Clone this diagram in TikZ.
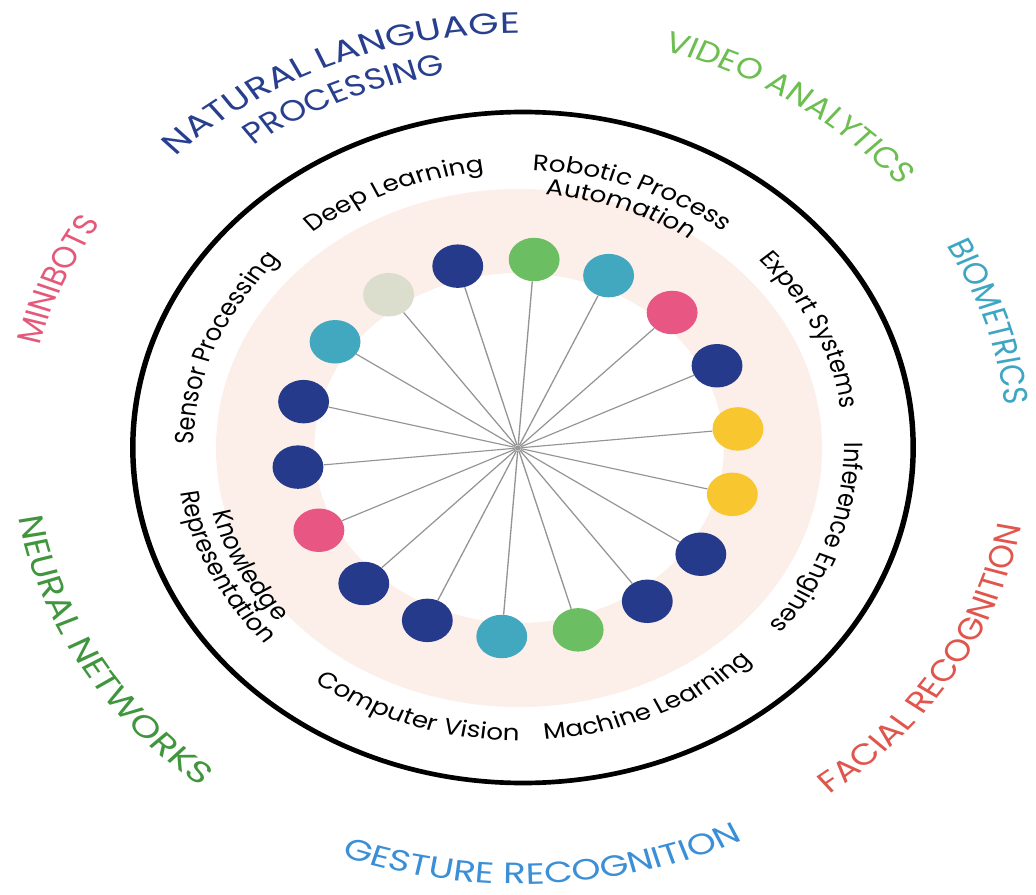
\documentclass[tikz,border=0pt]{standalone}
\usepackage{fontspec}
\setmainfont{Poppins}
\newfontfamily\lblfont{Poppins}
\newfontfamily\catfont{Poppins}
\usetikzlibrary{decorations.text}
\definecolor{cblue}{RGB}{38,58,140}
\definecolor{cgreen}{RGB}{107,190,98}
\definecolor{cteal}{RGB}{66,168,192}
\definecolor{cpink}{RGB}{232,86,132}
\definecolor{cyel}{RGB}{248,198,46}
\definecolor{cgray}{RGB}{219,222,205}
\definecolor{ringfill}{RGB}{252,238,232}
\definecolor{tnlp}{RGB}{40,62,142}
\definecolor{tvideo}{RGB}{108,190,80}
\definecolor{tbio}{RGB}{62,166,194}
\definecolor{tmini}{RGB}{230,88,122}
\definecolor{tneural}{RGB}{64,150,60}
\definecolor{tgesture}{RGB}{58,143,214}
\definecolor{tfacial}{RGB}{224,86,77}
\newcommand\innerfmt{\lblfont\fontsize{16.8}{20}\selectfont}
% #1 horizontal stretch of the glyphs
\newcommand\outerfmt[1]{\catfont\addfontfeatures{FakeStretch=#1}\fontsize{22}{26}\selectfont}
% #1 center, #2 font, #3 colour, #4 radius, #5 start, #6 end, #7 text
\newcommand\arclabel[7]{%
  \path[decorate, decoration={text along path, text color=#3, text align=center,
    text={|#2|#7}}] (#1) ++(#5:#4) arc[start angle=#5, end angle=#6, radius=#4];}
\begin{document}
\begin{tikzpicture}[x=0.75pt, y=0.75pt,
  dot/.style={circle, minimum size=32.6pt, inner sep=0pt, draw=none},
  spoke/.style={draw=black!42, line width=0.85pt},
  hubstyle/.style={circle, fill=black!40, minimum size=4pt, inner sep=0pt}]
\useasboundingbox (0,0) rectangle (1036,-895);
\fill[white] (0,0) rectangle (1036,-895);
\begin{scope}[transform canvas={xscale=1.17}]
\coordinate (C) at (443.6,-448);
\coordinate (C2) at (445.3,-448);
% outer black ring
\draw[line width=3.5pt] (447,-447.5) ellipse[x radius=333.5, y radius=335.5];
% pink annulus
\fill[ringfill, even odd rule] (C) circle[radius=259] (C) circle[radius=175];
% hub, spokes and dots
\node[hubstyle] (hub) at (442.7,-448) {};
\foreach \c [count=\i from 0] in {cyel,cblue,cpink,cteal,cgreen,cblue,cgray,cteal,cblue,cblue,cpink,cblue,cblue,cteal,cgreen,cblue,cblue,cyel} {
  \node[dot, fill=\c] (d\i) at ({442.7+189*cos(5.8+20*\i)},{-448+189*sin(5.8+20*\i)}) {};
  \draw[spoke] (hub) -- (d\i);
}
% inner labels (tops outward: clockwise)
\arclabel{C}{\innerfmt}{black}{278}{152.7}{72.7}{Deep Learning}
\arclabel{C}{\innerfmt}{black}{278}{109.4}{29.4}{Robotic Process}
\arclabel{C}{\innerfmt}{black}{254}{110}{30}{Automation}
\arclabel{C}{\innerfmt}{black}{278}{65.4}{-14.6}{Expert Systems}
\arclabel{C}{\innerfmt}{black}{278}{20.7}{-59.3}{Inference Engines}
\arclabel{C}{\innerfmt}{black}{278}{198.3}{118.3}{Sensor Processing}
% inner labels (tops inward: counterclockwise)
\arclabel{C}{\innerfmt}{black}{292.5}{-106.3}{-26.3}{Machine Learning}
\arclabel{C}{\innerfmt}{black}{292.5}{-148.3}{-68.3}{Computer Vision}
\arclabel{C}{\innerfmt}{black}{292.5}{-194.6}{-114.6}{Representation}
\arclabel{C}{\innerfmt}{black}{270}{-193.1}{-113.1}{Knowledge}
% outer category labels
\arclabel{C2}{\outerfmt{1.14}}{tnlp}{415}{167.7}{57.7}{NATURAL LANGUAGE}
\arclabel{C2}{\outerfmt{1.0}}{tnlp}{379}{163.4}{63.4}{PROCESSING}
\arclabel{C2}{\outerfmt{1.0}}{tvideo}{416}{101}{11}{VIDEO ANALYTICS}
\arclabel{C2}{\outerfmt{1.0}}{tbio}{416}{52.5}{-17.5}{BIOMETRICS}
\arclabel{C2}{\outerfmt{1.0}}{tmini}{424}{192}{122}{MINIBOTS}
\arclabel{C2}{\outerfmt{1.07}}{tfacial}{435}{-86.5}{23.5}{FACIAL RECOGNITION}
\arclabel{C2}{\outerfmt{1.08}}{tgesture}{436}{-142.4}{-32.4}{GESTURE RECOGNITION}
\arclabel{C2}{\outerfmt{1.18}}{tneural}{435}{-209.9}{-89.9}{NEURAL NETWORKS}
\end{scope}
\end{tikzpicture}
\end{document}
